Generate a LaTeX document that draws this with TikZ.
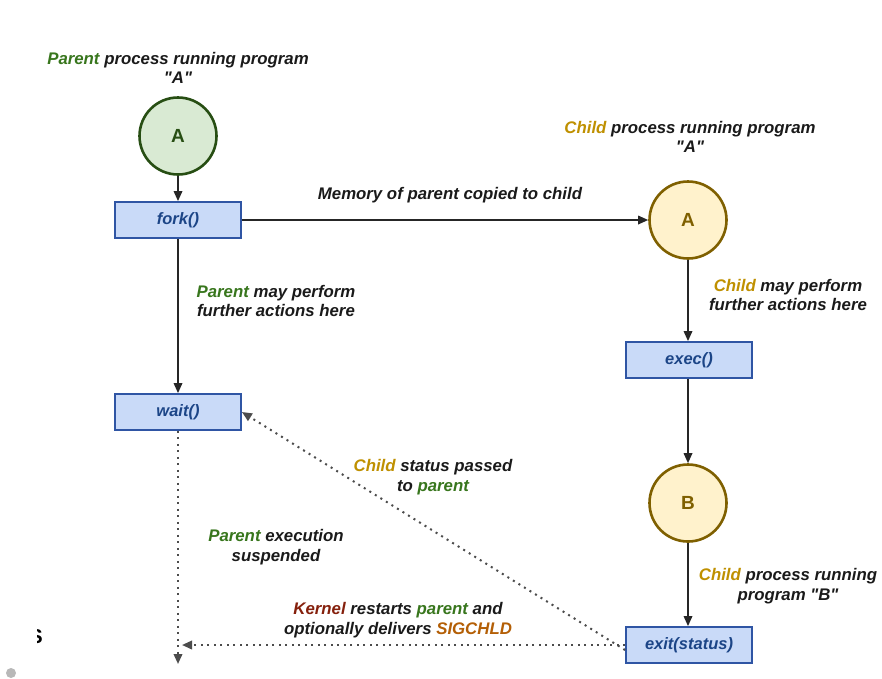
\documentclass[tikz,border=0pt]{standalone}
\usepackage{fontspec}
\setmainfont{Liberation Sans}[Ligatures=TeXOff]
\usetikzlibrary{arrows.meta}
\definecolor{pgreen}{HTML}{38761D}
\definecolor{pgreendk}{HTML}{274E13}
\definecolor{pgreenfill}{HTML}{D9EAD3}
\definecolor{cgold}{HTML}{BF9000}
\definecolor{cgolddk}{HTML}{7F6000}
\definecolor{cgoldfill}{HTML}{FFF2CC}
\definecolor{boxfill}{HTML}{C9DAF8}
\definecolor{boxline}{HTML}{2F55A4}
\definecolor{boxtext}{HTML}{1C4587}
\definecolor{kred}{HTML}{85200C}
\definecolor{sigor}{HTML}{B45F06}
\definecolor{txt}{HTML}{1A1A1A}
\tikzset{
  lbl/.style={font=\fontsize{16.8}{19.5}\selectfont\bfseries\itshape, text=txt, align=center, inner sep=0pt},
  callbox/.style={draw=boxline, fill=boxfill, line width=1.8pt, minimum width=126pt, minimum height=36pt, inner sep=0pt, font=\fontsize{16.5}{19}\selectfont\bfseries\itshape, text=boxtext},
  pcirc/.style={circle, draw=pgreendk, fill=pgreenfill, line width=2.6pt, minimum size=77pt, inner sep=0pt, font=\fontsize{19}{22}\selectfont\bfseries, text=pgreendk},
  ccirc/.style={circle, draw=cgolddk, fill=cgoldfill, line width=2.6pt, minimum size=77pt, inner sep=0pt, font=\fontsize{19}{22}\selectfont\bfseries, text=cgolddk},
  flow/.style={draw=black!85, line width=1.7pt, -{Triangle[length=10pt,width=8.5pt]}},
  dotflow/.style={draw=black!70, line width=2pt, dash pattern=on 2pt off 4.5pt, -{Triangle[length=10pt,width=8.5pt]}},
}
\begin{document}
\begin{tikzpicture}[x=1pt,y=-1pt]
\useasboundingbox (0,0) rectangle (882,678);
\fill[white] (0,0) rectangle (882,678);

% titles
\node[lbl] (ptitle) at (178,68) {\textcolor{pgreen}{Parent} process running program\\"A"};
\node[lbl] (ctitle) at (690,137) {\textcolor{cgold}{Child} process running program\\"A"};

% nodes
\node[pcirc] (pA) at (178,136) {A};
\node[callbox] (fork) at (178,220) {fork()};
\node[callbox] (wait) at (178,412) {wait()};
\node[ccirc] (cA) at (688,220) {A};
\node[callbox] (exec) at (689,360) {exec()};
\node[ccirc] (cB) at (688,503) {B};
\node[callbox] (exit) at (689,645) {exit(status)};
\coordinate (pend) at (178,664);
\coordinate (kend) at (182,645);

% solid flows
\draw[flow] (pA) -- (fork);
\draw[flow] (fork.east) -- (cA.west);
\draw[flow] (fork) -- (wait);
\draw[flow] (cA) -- (exec.north -| cA);
\draw[flow] (exec.south -| cB) -- (cB);
\draw[flow] (cB) -- (exit.north -| cB);

% dotted flows
\draw[dotflow] ([yshift=-5pt]exit.west) -- (wait.east);
\draw[dotflow] (exit.west) -- (kend);
\draw[dotflow] (wait.south) -- (pend);

% labels
\node[lbl] (memlbl) at (450,195) {Memory of parent copied to child};
\node[lbl] (pmay) at (276,301) {\textcolor{pgreen}{Parent} may perform\\further actions here};
\node[lbl] (cmay) at (788,295) {\textcolor{cgold}{Child} may perform\\further actions here};
\node[lbl] (cstat) at (433,477) {\textcolor{cgold}{Child} status passed\\to \textcolor{pgreen}{parent}};
\node[lbl] (psusp) at (276,547) {\textcolor{pgreen}{Parent} execution\\suspended};
\node[lbl] (cprogB) at (788,586) {\textcolor{cgold}{Child} process running\\program "B"};
\node[lbl] (kern) at (398,620) {\textcolor{kred}{Kernel} restarts \textcolor{pgreen}{parent} and\\optionally delivers \textcolor{sigor}{SIGCHLD}};

% edge artifacts
\begin{scope}
\clip (37,620) rectangle (60,655);
\node[font=\fontsize{20}{22}\selectfont\bfseries, text=black, inner sep=0pt] (sart) at (36,637) {S};
\end{scope}
\fill[black!28] (11,673) circle (5);
\end{tikzpicture}
\end{document}
